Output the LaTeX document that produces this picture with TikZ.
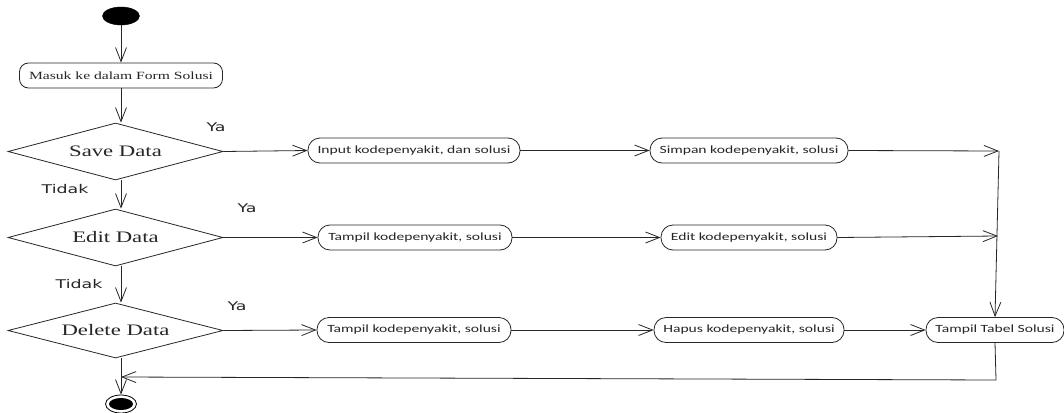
\documentclass[tikz,border=0pt]{standalone}
\usepackage{fontspec}
\usepackage{graphicx}
\setmainfont{Liberation Serif}
\newfontfamily\calfont{Carlito}
\newfontfamily\lblfont{DejaVu Sans}
\usetikzlibrary{shapes.geometric,arrows.meta}
\newcommand\hstr[1]{\scalebox{1.42}[1]{#1}}
\begin{document}
\begin{tikzpicture}[x=1pt,y=-1pt,
  line/.style={draw=black!85, line width=0.8pt},
  arr/.style={line, -{Straight Barb[length=14pt,width=11pt,line width=0.8pt]}},
  act/.style={line, rounded corners=12pt, minimum height=25pt, inner sep=0pt,
    font=\calfont\fontsize{11}{13}\selectfont, text=black!85},
  sact/.style={line, rounded corners=9pt, minimum height=25pt, inner sep=0pt,
    font=\fontsize{11}{13}\selectfont, text=black!85},
  dec/.style={line, diamond, aspect=3.77, minimum width=215pt, minimum height=57pt,
    inner sep=0pt, font=\fontsize{16}{18}\selectfont, text=black!85},
  lbl/.style={font=\lblfont\fontsize{12}{14}\selectfont, text=black!85, inner sep=0pt},
  startst/.style={ellipse, fill=black, draw=black, minimum width=37pt, minimum height=18pt, inner sep=0pt},
  endst/.style={ellipse, draw=black, line width=0.8pt, minimum width=31pt, minimum height=18pt, inner sep=0pt,
    path picture={\fill[black] (path picture bounding box.center) ellipse[x radius=12pt, y radius=6pt];}}
]
\useasboundingbox (0,0) rectangle (1064,412);
\fill[white] (0,0) rectangle (1064,412);

% nodes
\node[startst] (start) at (121,16) {};
\node[sact, minimum width=203pt] (masuk) at (121,75.5) {\hstr{Masuk ke dalam Form Solusi}};
\node[dec] (save) at (115.5,151.5) {\hstr{Save Data}};
\node[dec] (edit) at (115.5,237.5) {\hstr{Edit Data}};
\node[dec, minimum height=55pt] (delete) at (115.5,330.5) {\hstr{Delete Data}};
\node[endst] (end) at (121,404) {};

\node[act, minimum width=212pt] (input) at (414,150.5) {\hstr{Input kodepenyakit, dan solusi}};
\node[act, minimum width=198pt] (simpan) at (749,150.5) {\hstr{Simpan kodepenyakit, solusi}};
\node[act, minimum width=194pt] (tampilA) at (415,237.5) {\hstr{Tampil kodepenyakit, solusi}};
\node[act, minimum width=176pt] (editB) at (749,237.5) {\hstr{Edit kodepenyakit, solusi}};
\node[act, minimum width=194pt] (tampilB) at (414,330) {\hstr{Tampil kodepenyakit, solusi}};
\node[act, minimum width=190pt] (hapus) at (749,330) {\hstr{Hapus kodepenyakit, solusi}};
\node[act, minimum width=138pt] (tabel) at (995,330) {\hstr{Tampil Tabel Solusi}};

% labels
\node[lbl] (ya1) at (216,127) {\scalebox{1.45}[1]{Ya}};
\node[lbl] (tidak1) at (65,189) {\scalebox{1.45}[1]{Tidak}};
\node[lbl] (ya2) at (247,208) {\scalebox{1.45}[1]{Ya}};
\node[lbl] (tidak2) at (79,284) {\scalebox{1.45}[1]{Tidak}};
\node[lbl] (ya3) at (237,306) {\scalebox{1.45}[1]{Ya}};

% junctions
\coordinate (j1) at (999,151);
\coordinate (j2) at (998,236);
\coordinate (j3) at (996,380);
\coordinate (j4) at (121,377);

% connectors
\draw[arr] (start) -- (masuk);
\draw[arr] (masuk) -- (masuk |- save.north);
\draw[arr] (save.south -| start) -- (edit.north -| start);
\draw[arr] (edit.south -| start) -- (delete.north -| start);
\draw[arr] (delete.south -| start) -- (end);

\draw[arr] (save.east) -- (input.west);
\draw[arr] (input.east) -- (simpan.west);
\draw[arr] (simpan.east) -- (j1);

\draw[arr] (edit.east) -- (tampilA.west);
\draw[arr] (tampilA.east) -- (editB.west);
\draw[arr] (editB.east) -- (j2);

\draw[arr] (delete.east) -- (tampilB.west);
\draw[arr] (tampilB.east) -- (hapus.west);
\draw[arr] (hapus.east) -- (tabel.west);

\draw[arr] (j1) -- (tabel.north);
\draw[arr] (tabel.south) -- (j3) -- (j4);
\end{tikzpicture}
\end{document}
